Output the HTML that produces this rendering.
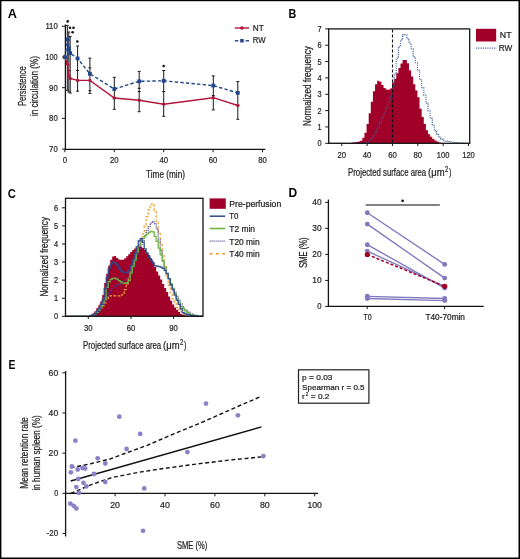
<!DOCTYPE html>
<html><head><meta charset="utf-8"><style>
html,body{margin:0;padding:0;background:#fff;}
body{width:520px;height:559px;overflow:hidden;}
svg{display:block;font-family:"Liberation Sans", sans-serif;will-change:transform;}
</style></head><body>
<svg width="520" height="559" viewBox="0 0 520 559">
<rect x="0" y="0" width="520" height="559" fill="#fff"/>
<text x="7.7" y="18.1" font-size="12.6" text-anchor="start" font-weight="bold" fill="#050505" textLength="9.2" lengthAdjust="spacingAndGlyphs">A</text>
<line x1="65.40" y1="24.50" x2="65.40" y2="149.90" stroke="#141414" stroke-width="1.3"/>
<line x1="64.80" y1="149.30" x2="265.30" y2="149.30" stroke="#141414" stroke-width="1.3"/>
<line x1="62.00" y1="149.10" x2="65.40" y2="149.10" stroke="#141414" stroke-width="1.0"/>
<text x="57.7" y="152.1" font-size="9.1" text-anchor="end" font-weight="normal" fill="#1e1e1e" stroke="#1e1e1e" stroke-width="0.22" textLength="8.6" lengthAdjust="spacingAndGlyphs">70</text>
<line x1="62.00" y1="118.40" x2="65.40" y2="118.40" stroke="#141414" stroke-width="1.0"/>
<text x="57.7" y="121.4" font-size="9.1" text-anchor="end" font-weight="normal" fill="#1e1e1e" stroke="#1e1e1e" stroke-width="0.22" textLength="8.6" lengthAdjust="spacingAndGlyphs">80</text>
<line x1="62.00" y1="87.70" x2="65.40" y2="87.70" stroke="#141414" stroke-width="1.0"/>
<text x="57.7" y="90.7" font-size="9.1" text-anchor="end" font-weight="normal" fill="#1e1e1e" stroke="#1e1e1e" stroke-width="0.22" textLength="8.6" lengthAdjust="spacingAndGlyphs">90</text>
<line x1="62.00" y1="57.00" x2="65.40" y2="57.00" stroke="#141414" stroke-width="1.0"/>
<text x="57.7" y="60.0" font-size="9.1" text-anchor="end" font-weight="normal" fill="#1e1e1e" stroke="#1e1e1e" stroke-width="0.22" textLength="12.3" lengthAdjust="spacingAndGlyphs">100</text>
<line x1="62.00" y1="26.30" x2="65.40" y2="26.30" stroke="#141414" stroke-width="1.0"/>
<text x="57.7" y="29.3" font-size="9.1" text-anchor="end" font-weight="normal" fill="#1e1e1e" stroke="#1e1e1e" stroke-width="0.22" textLength="12.3" lengthAdjust="spacingAndGlyphs">110</text>
<line x1="64.90" y1="149.30" x2="64.90" y2="152.20" stroke="#141414" stroke-width="1.0"/>
<text x="64.9" y="163.4" font-size="9.1" text-anchor="middle" font-weight="normal" fill="#1e1e1e" stroke="#1e1e1e" stroke-width="0.22" textLength="4.3" lengthAdjust="spacingAndGlyphs">0</text>
<line x1="114.30" y1="149.30" x2="114.30" y2="152.20" stroke="#141414" stroke-width="1.0"/>
<text x="114.30000000000001" y="163.4" font-size="9.1" text-anchor="middle" font-weight="normal" fill="#1e1e1e" stroke="#1e1e1e" stroke-width="0.22" textLength="8.6" lengthAdjust="spacingAndGlyphs">20</text>
<line x1="163.70" y1="149.30" x2="163.70" y2="152.20" stroke="#141414" stroke-width="1.0"/>
<text x="163.70000000000002" y="163.4" font-size="9.1" text-anchor="middle" font-weight="normal" fill="#1e1e1e" stroke="#1e1e1e" stroke-width="0.22" textLength="8.6" lengthAdjust="spacingAndGlyphs">40</text>
<line x1="213.10" y1="149.30" x2="213.10" y2="152.20" stroke="#141414" stroke-width="1.0"/>
<text x="213.10000000000002" y="163.4" font-size="9.1" text-anchor="middle" font-weight="normal" fill="#1e1e1e" stroke="#1e1e1e" stroke-width="0.22" textLength="8.6" lengthAdjust="spacingAndGlyphs">60</text>
<line x1="262.50" y1="149.30" x2="262.50" y2="152.20" stroke="#141414" stroke-width="1.0"/>
<text x="262.5" y="163.4" font-size="9.1" text-anchor="middle" font-weight="normal" fill="#1e1e1e" stroke="#1e1e1e" stroke-width="0.22" textLength="8.6" lengthAdjust="spacingAndGlyphs">80</text>
<text x="146" y="177.5" font-size="10" text-anchor="start" font-weight="normal" fill="#1e1e1e" stroke="#1e1e1e" stroke-width="0.22" textLength="39" lengthAdjust="spacingAndGlyphs">Time (min)</text>
<text x="25.8" y="86.1" font-size="10" text-anchor="middle" font-weight="normal" fill="#1e1e1e" stroke="#1e1e1e" stroke-width="0.22" textLength="39.8" lengthAdjust="spacingAndGlyphs" transform="rotate(-90 25.8 86.1)">Persistence</text>
<text x="37.9" y="86.1" font-size="10" text-anchor="middle" font-weight="normal" fill="#1e1e1e" stroke="#1e1e1e" stroke-width="0.22" textLength="60" lengthAdjust="spacingAndGlyphs" transform="rotate(-90 37.9 86.1)">in circulation (%)</text>
<line x1="67.30" y1="25.40" x2="67.30" y2="90.30" stroke="#1a1a1a" stroke-width="1.0"/>
<line x1="65.80" y1="25.40" x2="68.80" y2="25.40" stroke="#1a1a1a" stroke-width="1.0"/>
<line x1="65.80" y1="90.30" x2="68.80" y2="90.30" stroke="#1a1a1a" stroke-width="1.0"/>
<line x1="65.80" y1="63.90" x2="68.80" y2="63.90" stroke="#1a1a1a" stroke-width="1.0"/>
<line x1="68.80" y1="32.00" x2="68.80" y2="92.00" stroke="#1a1a1a" stroke-width="1.0"/>
<line x1="67.30" y1="32.00" x2="70.30" y2="32.00" stroke="#1a1a1a" stroke-width="1.0"/>
<line x1="67.30" y1="92.00" x2="70.30" y2="92.00" stroke="#1a1a1a" stroke-width="1.0"/>
<line x1="67.30" y1="70.60" x2="70.30" y2="70.60" stroke="#1a1a1a" stroke-width="1.0"/>
<line x1="70.20" y1="36.60" x2="70.20" y2="93.00" stroke="#1a1a1a" stroke-width="1.0"/>
<line x1="68.70" y1="36.60" x2="71.70" y2="36.60" stroke="#1a1a1a" stroke-width="1.0"/>
<line x1="68.70" y1="93.00" x2="71.70" y2="93.00" stroke="#1a1a1a" stroke-width="1.0"/>
<line x1="77.60" y1="46.00" x2="77.60" y2="91.20" stroke="#1a1a1a" stroke-width="1.0"/>
<line x1="76.10" y1="46.00" x2="79.10" y2="46.00" stroke="#1a1a1a" stroke-width="1.0"/>
<line x1="76.10" y1="91.20" x2="79.10" y2="91.20" stroke="#1a1a1a" stroke-width="1.0"/>
<line x1="76.10" y1="70.40" x2="79.10" y2="70.40" stroke="#1a1a1a" stroke-width="1.0"/>
<line x1="89.90" y1="58.10" x2="89.90" y2="93.40" stroke="#1a1a1a" stroke-width="1.0"/>
<line x1="88.40" y1="58.10" x2="91.40" y2="58.10" stroke="#1a1a1a" stroke-width="1.0"/>
<line x1="88.40" y1="93.40" x2="91.40" y2="93.40" stroke="#1a1a1a" stroke-width="1.0"/>
<line x1="88.40" y1="67.90" x2="91.40" y2="67.90" stroke="#1a1a1a" stroke-width="1.0"/>
<line x1="88.40" y1="90.70" x2="91.40" y2="90.70" stroke="#1a1a1a" stroke-width="1.0"/>
<line x1="114.30" y1="77.30" x2="114.30" y2="109.30" stroke="#1a1a1a" stroke-width="1.0"/>
<line x1="112.80" y1="77.30" x2="115.80" y2="77.30" stroke="#1a1a1a" stroke-width="1.0"/>
<line x1="112.80" y1="109.30" x2="115.80" y2="109.30" stroke="#1a1a1a" stroke-width="1.0"/>
<line x1="112.80" y1="98.00" x2="115.80" y2="98.00" stroke="#1a1a1a" stroke-width="1.0"/>
<line x1="139.20" y1="71.40" x2="139.20" y2="111.70" stroke="#1a1a1a" stroke-width="1.0"/>
<line x1="137.70" y1="71.40" x2="140.70" y2="71.40" stroke="#1a1a1a" stroke-width="1.0"/>
<line x1="137.70" y1="111.70" x2="140.70" y2="111.70" stroke="#1a1a1a" stroke-width="1.0"/>
<line x1="137.70" y1="88.30" x2="140.70" y2="88.30" stroke="#1a1a1a" stroke-width="1.0"/>
<line x1="137.70" y1="91.50" x2="140.70" y2="91.50" stroke="#1a1a1a" stroke-width="1.0"/>
<line x1="163.70" y1="70.50" x2="163.70" y2="116.30" stroke="#1a1a1a" stroke-width="1.0"/>
<line x1="162.20" y1="70.50" x2="165.20" y2="70.50" stroke="#1a1a1a" stroke-width="1.0"/>
<line x1="162.20" y1="116.30" x2="165.20" y2="116.30" stroke="#1a1a1a" stroke-width="1.0"/>
<line x1="162.20" y1="91.50" x2="165.20" y2="91.50" stroke="#1a1a1a" stroke-width="1.0"/>
<line x1="213.30" y1="75.90" x2="213.30" y2="109.90" stroke="#1a1a1a" stroke-width="1.0"/>
<line x1="211.80" y1="75.90" x2="214.80" y2="75.90" stroke="#1a1a1a" stroke-width="1.0"/>
<line x1="211.80" y1="109.90" x2="214.80" y2="109.90" stroke="#1a1a1a" stroke-width="1.0"/>
<line x1="211.80" y1="95.60" x2="214.80" y2="95.60" stroke="#1a1a1a" stroke-width="1.0"/>
<line x1="237.80" y1="81.60" x2="237.80" y2="119.30" stroke="#1a1a1a" stroke-width="1.0"/>
<line x1="236.30" y1="81.60" x2="239.30" y2="81.60" stroke="#1a1a1a" stroke-width="1.0"/>
<line x1="236.30" y1="119.30" x2="239.30" y2="119.30" stroke="#1a1a1a" stroke-width="1.0"/>
<line x1="236.30" y1="105.50" x2="239.30" y2="105.50" stroke="#1a1a1a" stroke-width="1.0"/>
<circle cx="67.70" cy="21.40" r="1.3" fill="#111"/>
<circle cx="70.00" cy="27.70" r="1.3" fill="#111"/>
<circle cx="73.50" cy="27.70" r="1.3" fill="#111"/>
<circle cx="72.60" cy="32.30" r="1.3" fill="#111"/>
<circle cx="77.30" cy="41.50" r="1.3" fill="#111"/>
<circle cx="163.70" cy="66.00" r="1.3" fill="#111"/>
<polyline points="64.90,57.20 67.60,64.30 68.60,75.80 70.30,78.40 77.60,80.40 89.90,80.40 114.30,98.00 139.20,100.20 163.70,104.20 213.30,97.70 237.80,105.50" fill="none" stroke="#b3163c" stroke-width="1.4" stroke-linejoin="miter"/>
<circle cx="64.90" cy="57.20" r="1.7" fill="#b3163c"/>
<circle cx="67.60" cy="64.30" r="1.7" fill="#b3163c"/>
<circle cx="68.60" cy="75.80" r="1.7" fill="#b3163c"/>
<circle cx="70.30" cy="78.40" r="1.7" fill="#b3163c"/>
<circle cx="77.60" cy="80.40" r="1.7" fill="#b3163c"/>
<circle cx="89.90" cy="80.40" r="1.7" fill="#b3163c"/>
<circle cx="114.30" cy="98.00" r="1.7" fill="#b3163c"/>
<circle cx="139.20" cy="100.20" r="1.7" fill="#b3163c"/>
<circle cx="163.70" cy="104.20" r="1.7" fill="#b3163c"/>
<circle cx="213.30" cy="97.70" r="1.7" fill="#b3163c"/>
<circle cx="237.80" cy="105.50" r="1.7" fill="#b3163c"/>
<polyline points="64.90,57.20 67.70,39.40 69.00,48.70 70.10,53.10 77.60,58.50 89.90,73.80 114.30,89.00 139.20,81.30 163.70,80.80 213.30,85.60 237.80,92.90" fill="none" stroke="#22458a" stroke-width="1.4" stroke-linejoin="miter" stroke-dasharray="3.4,2.2"/>
<rect x="63.00" y="55.30" width="3.8" height="3.8" fill="#22458a"/>
<rect x="65.80" y="37.50" width="3.8" height="3.8" fill="#22458a"/>
<rect x="67.10" y="46.80" width="3.8" height="3.8" fill="#22458a"/>
<rect x="68.20" y="51.20" width="3.8" height="3.8" fill="#22458a"/>
<rect x="75.70" y="56.60" width="3.8" height="3.8" fill="#22458a"/>
<rect x="88.00" y="71.90" width="3.8" height="3.8" fill="#22458a"/>
<rect x="112.40" y="87.10" width="3.8" height="3.8" fill="#22458a"/>
<rect x="137.30" y="79.40" width="3.8" height="3.8" fill="#22458a"/>
<rect x="161.80" y="78.90" width="3.8" height="3.8" fill="#22458a"/>
<rect x="211.40" y="83.70" width="3.8" height="3.8" fill="#22458a"/>
<rect x="235.90" y="91.00" width="3.8" height="3.8" fill="#22458a"/>
<line x1="234.80" y1="28.00" x2="249.00" y2="28.00" stroke="#b3163c" stroke-width="1.4"/>
<circle cx="241.90" cy="28.00" r="1.8" fill="#b3163c"/>
<text x="252.8" y="31.0" font-size="9" text-anchor="start" font-weight="normal" fill="#1e1e1e" stroke="#1e1e1e" stroke-width="0.22" textLength="11" lengthAdjust="spacingAndGlyphs">NT</text>
<line x1="234.80" y1="40.80" x2="238.40" y2="40.80" stroke="#22458a" stroke-width="1.4"/>
<line x1="245.60" y1="40.80" x2="249.20" y2="40.80" stroke="#22458a" stroke-width="1.4"/>
<rect x="240.2" y="39.0" width="3.5" height="3.5" fill="#22458a"/>
<text x="252.8" y="43.4" font-size="9" text-anchor="start" font-weight="normal" fill="#1e1e1e" stroke="#1e1e1e" stroke-width="0.22" textLength="12.8" lengthAdjust="spacingAndGlyphs">RW</text>
<text x="288.6" y="17.9" font-size="12.6" text-anchor="start" font-weight="bold" fill="#050505" textLength="7.8" lengthAdjust="spacingAndGlyphs">B</text>
<path d="M329,143.3 L329.00,143.30 L330.52,143.30 L330.52,143.30 L332.64,143.30 L332.64,143.30 L334.76,143.30 L334.76,143.30 L336.88,143.30 L336.88,143.30 L339.00,143.30 L339.00,143.30 L341.12,143.30 L341.12,143.30 L343.24,143.30 L343.24,143.30 L345.36,143.30 L345.36,143.30 L347.48,143.30 L347.48,143.30 L349.60,143.30 L349.60,142.96 L351.72,142.96 L351.72,142.59 L353.84,142.59 L353.84,142.28 L355.96,142.28 L355.96,141.95 L358.08,141.95 L358.08,141.58 L360.20,141.58 L360.20,140.71 L362.32,140.71 L362.32,137.85 L364.44,137.85 L364.44,132.79 L366.56,132.79 L366.56,124.11 L368.68,124.11 L368.68,113.25 L370.80,113.25 L370.80,101.82 L372.92,101.82 L372.92,91.19 L375.04,91.19 L375.04,84.21 L377.16,84.21 L377.16,80.73 L379.28,80.73 L379.28,81.68 L381.40,81.68 L381.40,84.98 L383.52,84.98 L383.52,88.07 L385.64,88.07 L385.64,89.60 L387.76,89.60 L387.76,89.72 L389.88,89.72 L389.88,88.62 L392.00,88.62 L392.00,82.51 L394.12,82.51 L394.12,78.85 L396.24,78.85 L396.24,73.17 L398.36,73.17 L398.36,67.95 L400.48,67.95 L400.48,63.54 L402.60,63.54 L402.60,59.95 L404.72,59.95 L404.72,60.07 L406.84,60.07 L406.84,63.25 L408.96,63.25 L408.96,70.19 L411.08,70.19 L411.08,76.60 L413.20,76.60 L413.20,84.21 L415.32,84.21 L415.32,90.57 L417.44,90.57 L417.44,97.31 L419.56,97.31 L419.56,108.76 L421.68,108.76 L421.68,116.91 L423.80,116.91 L423.80,124.05 L425.92,124.05 L425.92,130.14 L428.04,130.14 L428.04,134.19 L430.16,134.19 L430.16,136.76 L432.28,136.76 L432.28,138.88 L434.40,138.88 L434.40,140.49 L436.52,140.49 L436.52,141.58 L438.64,141.58 L438.64,142.47 L440.76,142.47 L440.76,143.03 L442.88,143.03 L442.88,143.30 L445.00,143.30 L445.00,143.30 L447.12,143.30 L447.12,143.30 L449.24,143.30 L449.24,143.30 L451.36,143.30 L451.36,143.30 L453.48,143.30 L453.48,143.30 L455.60,143.30 L455.60,143.30 L457.72,143.30 L457.72,143.30 L459.84,143.30 L459.84,143.30 L461.96,143.30 L461.96,143.30 L464.08,143.30 L464.08,143.30 L466.20,143.30 L466.20,143.30 L468.32,143.30 L468.32,143.30 L469.70,143.30 L469.7,143.3 Z" fill="#a10028"/>
<polyline points="329.00,143.30 330.52,143.30 330.52,143.30 332.64,143.30 332.64,143.30 334.76,143.30 334.76,143.30 336.88,143.30 336.88,143.30 339.00,143.30 339.00,143.30 341.12,143.30 341.12,143.30 343.24,143.30 343.24,143.30 345.36,143.30 345.36,143.30 347.48,143.30 347.48,143.30 349.60,143.30 349.60,143.30 351.72,143.30 351.72,143.30 353.84,143.30 353.84,143.30 355.96,143.30 355.96,143.30 358.08,143.30 358.08,143.30 360.20,143.30 360.20,143.30 362.32,143.30 362.32,143.21 364.44,143.21 364.44,142.93 366.56,142.93 366.56,142.41 368.68,142.41 368.68,140.77 370.80,140.77 370.80,138.51 372.92,138.51 372.92,135.58 375.04,135.58 375.04,131.85 377.16,131.85 377.16,128.24 379.28,128.24 379.28,122.85 381.40,122.85 381.40,117.54 383.52,117.54 383.52,113.02 385.64,113.02 385.64,107.96 387.76,107.96 387.76,101.95 389.88,101.95 389.88,96.27 392.00,96.27 392.00,87.15 394.12,87.15 394.12,74.01 396.24,74.01 396.24,58.25 398.36,58.25 398.36,46.81 400.48,46.81 400.48,39.84 402.60,39.84 402.60,34.56 404.72,34.56 404.72,34.75 406.84,34.75 406.84,38.63 408.96,38.63 408.96,43.22 411.08,43.22 411.08,48.71 413.20,48.71 413.20,56.83 415.32,56.83 415.32,62.72 417.44,62.72 417.44,70.21 419.56,70.21 419.56,79.69 421.68,79.69 421.68,87.58 423.80,87.58 423.80,95.15 425.92,95.15 425.92,103.11 428.04,103.11 428.04,110.94 430.16,110.94 430.16,118.36 432.28,118.36 432.28,125.20 434.40,125.20 434.40,130.58 436.52,130.58 436.52,134.42 438.64,134.42 438.64,137.16 440.76,137.16 440.76,139.13 442.88,139.13 442.88,140.23 445.00,140.23 445.00,141.00 447.12,141.00 447.12,141.53 449.24,141.53 449.24,141.95 451.36,141.95 451.36,142.24 453.48,142.24 453.48,142.52 455.60,142.52 455.60,142.67 457.72,142.67 457.72,142.82 459.84,142.82 459.84,142.97 461.96,142.97 461.96,143.07 464.08,143.07 464.08,143.15 466.20,143.15 466.20,143.23 468.32,143.23 468.32,143.30 469.70,143.30" fill="none" stroke="#3d5c9c" stroke-width="1.15" stroke-linejoin="miter" stroke-dasharray="1.1,1.15"/>
<line x1="392.50" y1="29.50" x2="392.50" y2="143.30" stroke="#111" stroke-width="1.1" stroke-dasharray="3,2"/>
<rect x="328.7" y="28.9" width="141.0" height="114.40" fill="none" stroke="#141414" stroke-width="1.3"/>
<line x1="325.20" y1="143.30" x2="328.70" y2="143.30" stroke="#141414" stroke-width="1.0"/>
<text x="321.6" y="146.3" font-size="9.1" text-anchor="end" font-weight="normal" fill="#1e1e1e" stroke="#1e1e1e" stroke-width="0.22" textLength="4.1" lengthAdjust="spacingAndGlyphs">0</text>
<line x1="325.20" y1="126.95" x2="328.70" y2="126.95" stroke="#141414" stroke-width="1.0"/>
<text x="321.6" y="129.95000000000002" font-size="9.1" text-anchor="end" font-weight="normal" fill="#1e1e1e" stroke="#1e1e1e" stroke-width="0.22" textLength="4.1" lengthAdjust="spacingAndGlyphs">1</text>
<line x1="325.20" y1="110.60" x2="328.70" y2="110.60" stroke="#141414" stroke-width="1.0"/>
<text x="321.6" y="113.60000000000001" font-size="9.1" text-anchor="end" font-weight="normal" fill="#1e1e1e" stroke="#1e1e1e" stroke-width="0.22" textLength="4.1" lengthAdjust="spacingAndGlyphs">2</text>
<line x1="325.20" y1="94.25" x2="328.70" y2="94.25" stroke="#141414" stroke-width="1.0"/>
<text x="321.6" y="97.25" font-size="9.1" text-anchor="end" font-weight="normal" fill="#1e1e1e" stroke="#1e1e1e" stroke-width="0.22" textLength="4.1" lengthAdjust="spacingAndGlyphs">3</text>
<line x1="325.20" y1="77.90" x2="328.70" y2="77.90" stroke="#141414" stroke-width="1.0"/>
<text x="321.6" y="80.9" font-size="9.1" text-anchor="end" font-weight="normal" fill="#1e1e1e" stroke="#1e1e1e" stroke-width="0.22" textLength="4.1" lengthAdjust="spacingAndGlyphs">4</text>
<line x1="325.20" y1="61.55" x2="328.70" y2="61.55" stroke="#141414" stroke-width="1.0"/>
<text x="321.6" y="64.55000000000001" font-size="9.1" text-anchor="end" font-weight="normal" fill="#1e1e1e" stroke="#1e1e1e" stroke-width="0.22" textLength="4.1" lengthAdjust="spacingAndGlyphs">5</text>
<line x1="325.20" y1="45.20" x2="328.70" y2="45.20" stroke="#141414" stroke-width="1.0"/>
<text x="321.6" y="48.2" font-size="9.1" text-anchor="end" font-weight="normal" fill="#1e1e1e" stroke="#1e1e1e" stroke-width="0.22" textLength="4.1" lengthAdjust="spacingAndGlyphs">6</text>
<line x1="325.20" y1="28.85" x2="328.70" y2="28.85" stroke="#141414" stroke-width="1.0"/>
<text x="321.6" y="31.849999999999994" font-size="9.1" text-anchor="end" font-weight="normal" fill="#1e1e1e" stroke="#1e1e1e" stroke-width="0.22" textLength="4.1" lengthAdjust="spacingAndGlyphs">7</text>
<line x1="341.75" y1="143.30" x2="341.75" y2="146.00" stroke="#141414" stroke-width="1.0"/>
<text x="341.75" y="157.6" font-size="9.1" text-anchor="middle" font-weight="normal" fill="#1e1e1e" stroke="#1e1e1e" stroke-width="0.22" textLength="8.6" lengthAdjust="spacingAndGlyphs">20</text>
<line x1="367.10" y1="143.30" x2="367.10" y2="146.00" stroke="#141414" stroke-width="1.0"/>
<text x="367.1" y="157.6" font-size="9.1" text-anchor="middle" font-weight="normal" fill="#1e1e1e" stroke="#1e1e1e" stroke-width="0.22" textLength="8.6" lengthAdjust="spacingAndGlyphs">40</text>
<line x1="392.45" y1="143.30" x2="392.45" y2="146.00" stroke="#141414" stroke-width="1.0"/>
<text x="392.45" y="157.6" font-size="9.1" text-anchor="middle" font-weight="normal" fill="#1e1e1e" stroke="#1e1e1e" stroke-width="0.22" textLength="8.6" lengthAdjust="spacingAndGlyphs">60</text>
<line x1="417.80" y1="143.30" x2="417.80" y2="146.00" stroke="#141414" stroke-width="1.0"/>
<text x="417.8" y="157.6" font-size="9.1" text-anchor="middle" font-weight="normal" fill="#1e1e1e" stroke="#1e1e1e" stroke-width="0.22" textLength="8.6" lengthAdjust="spacingAndGlyphs">80</text>
<line x1="443.15" y1="143.30" x2="443.15" y2="146.00" stroke="#141414" stroke-width="1.0"/>
<text x="443.15" y="157.6" font-size="9.1" text-anchor="middle" font-weight="normal" fill="#1e1e1e" stroke="#1e1e1e" stroke-width="0.22" textLength="12.6" lengthAdjust="spacingAndGlyphs">100</text>
<line x1="468.50" y1="143.30" x2="468.50" y2="146.00" stroke="#141414" stroke-width="1.0"/>
<text x="468.5" y="157.6" font-size="9.1" text-anchor="middle" font-weight="normal" fill="#1e1e1e" stroke="#1e1e1e" stroke-width="0.22" textLength="12.6" lengthAdjust="spacingAndGlyphs">120</text>
<text x="348.1" y="176.2" font-size="10" text-anchor="start" font-weight="normal" fill="#1e1e1e" stroke="#1e1e1e" stroke-width="0.22" textLength="78.1" lengthAdjust="spacingAndGlyphs">Projected surface area</text>
<text x="428.1" y="176.2" font-size="10" text-anchor="start" font-weight="normal" fill="#1e1e1e" stroke="#1e1e1e" stroke-width="0.22" textLength="16.5" lengthAdjust="spacingAndGlyphs">(&#956;m</text>
<text x="444.9" y="172.2" font-size="8.6" text-anchor="start" font-weight="normal" fill="#1e1e1e" stroke="#1e1e1e" stroke-width="0.22" textLength="3.3" lengthAdjust="spacingAndGlyphs">2</text>
<text x="449.0" y="176.2" font-size="10" text-anchor="start" font-weight="normal" fill="#1e1e1e" stroke="#1e1e1e" stroke-width="0.22" textLength="2.4" lengthAdjust="spacingAndGlyphs">)</text>
<text x="311.2" y="86.0" font-size="10" text-anchor="middle" font-weight="normal" fill="#1e1e1e" stroke="#1e1e1e" stroke-width="0.22" textLength="79.8" lengthAdjust="spacingAndGlyphs" transform="rotate(-90 311.2 86.0)">Normalized frequency</text>
<rect x="476" y="28.8" width="20.2" height="12.7" fill="#a10028"/>
<text x="499.8" y="37.7" font-size="8.5" text-anchor="start" font-weight="normal" fill="#1e1e1e" stroke="#1e1e1e" stroke-width="0.22" textLength="11.7" lengthAdjust="spacingAndGlyphs">NT</text>
<line x1="476.00" y1="48.10" x2="496.50" y2="48.10" stroke="#3d5c9c" stroke-width="1.15" stroke-dasharray="1.1,1.15"/>
<text x="498.8" y="50.5" font-size="8.5" text-anchor="start" font-weight="normal" fill="#1e1e1e" stroke="#1e1e1e" stroke-width="0.22" textLength="13.5" lengthAdjust="spacingAndGlyphs">RW</text>
<text x="7.8" y="197.7" font-size="12.6" text-anchor="start" font-weight="bold" fill="#050505" textLength="8.1" lengthAdjust="spacingAndGlyphs">C</text>
<path d="M65.4,316.3 L65.40,316.30 L66.20,316.30 L66.20,316.30 L68.20,316.30 L68.20,316.30 L70.20,316.30 L70.20,316.30 L72.20,316.30 L72.20,316.30 L74.20,316.30 L74.20,316.30 L76.20,316.30 L76.20,316.30 L78.20,316.30 L78.20,316.30 L80.20,316.30 L80.20,316.30 L82.20,316.30 L82.20,316.30 L84.20,316.30 L84.20,316.30 L86.20,316.30 L86.20,316.30 L88.20,316.30 L88.20,315.99 L90.20,315.99 L90.20,314.75 L92.20,314.75 L92.20,313.41 L94.20,313.41 L94.20,311.49 L96.20,311.49 L96.20,308.30 L98.20,308.30 L98.20,305.43 L100.20,305.43 L100.20,301.54 L102.20,301.54 L102.20,295.10 L104.20,295.10 L104.20,283.06 L106.20,283.06 L106.20,273.64 L108.20,273.64 L108.20,265.76 L110.20,265.76 L110.20,259.84 L112.20,259.84 L112.20,256.52 L114.20,256.52 L114.20,256.10 L116.20,256.10 L116.20,258.10 L118.20,258.10 L118.20,259.47 L120.20,259.47 L120.20,259.80 L122.20,259.80 L122.20,259.80 L124.20,259.80 L124.20,258.17 L126.20,258.17 L126.20,256.20 L128.20,256.20 L128.20,254.17 L130.20,254.17 L130.20,252.10 L132.20,252.10 L132.20,250.10 L134.20,250.10 L134.20,248.60 L136.20,248.60 L136.20,247.43 L138.20,247.43 L138.20,246.62 L140.20,246.62 L140.20,246.46 L142.20,246.46 L142.20,248.10 L144.20,248.10 L144.20,250.12 L146.20,250.12 L146.20,252.60 L148.20,252.60 L148.20,255.08 L150.20,255.08 L150.20,258.21 L152.20,258.21 L152.20,261.56 L154.20,261.56 L154.20,266.97 L156.20,266.97 L156.20,271.50 L158.20,271.50 L158.20,275.50 L160.20,275.50 L160.20,279.57 L162.20,279.57 L162.20,283.96 L164.20,283.96 L164.20,288.10 L166.20,288.10 L166.20,292.10 L168.20,292.10 L168.20,296.59 L170.20,296.59 L170.20,300.80 L172.20,300.80 L172.20,304.38 L174.20,304.38 L174.20,307.47 L176.20,307.47 L176.20,310.10 L178.20,310.10 L178.20,312.10 L180.20,312.10 L180.20,313.88 L182.20,313.88 L182.20,314.80 L184.20,314.80 L184.20,315.26 L186.20,315.26 L186.20,315.53 L188.20,315.53 L188.20,315.71 L190.20,315.71 L190.20,315.90 L192.20,315.90 L192.20,316.03 L194.20,316.03 L194.20,316.09 L196.20,316.09 L196.20,316.15 L198.20,316.15 L198.20,316.21 L200.20,316.21 L200.20,316.27 L202.20,316.27 L202.20,316.30 L203.00,316.30 L203,316.3 Z" fill="#a10028"/>
<polyline points="65.40,316.30 66.20,316.30 66.20,316.30 68.20,316.30 68.20,316.30 70.20,316.30 70.20,316.30 72.20,316.30 72.20,316.30 74.20,316.30 74.20,316.30 76.20,316.30 76.20,316.30 78.20,316.30 78.20,316.30 80.20,316.30 80.20,316.30 82.20,316.30 82.20,316.30 84.20,316.30 84.20,316.30 86.20,316.30 86.20,316.30 88.20,316.30 88.20,316.30 90.20,316.30 90.20,316.03 92.20,316.03 92.20,314.93 94.20,314.93 94.20,313.82 96.20,313.82 96.20,312.44 98.20,312.44 98.20,310.21 100.20,310.21 100.20,307.97 102.20,307.97 102.20,305.55 104.20,305.55 104.20,302.94 106.20,302.94 106.20,299.38 108.20,299.38 108.20,297.02 110.20,297.02 110.20,295.87 112.20,295.87 112.20,295.70 114.20,295.70 114.20,295.78 116.20,295.78 116.20,295.93 118.20,295.93 118.20,295.98 120.20,295.98 120.20,295.15 122.20,295.15 122.20,293.43 124.20,293.43 124.20,289.55 126.20,289.55 126.20,283.76 128.20,283.76 128.20,276.70 130.20,276.70 130.20,271.14 132.20,271.14 132.20,265.40 134.20,265.40 134.20,259.40 136.20,259.40 136.20,252.95 138.20,252.95 138.20,246.63 140.20,246.63 140.20,241.27 142.20,241.27 142.20,233.86 144.20,233.86 144.20,225.83 146.20,225.83 146.20,216.59 148.20,216.59 148.20,209.72 150.20,209.72 150.20,204.43 152.20,204.43 152.20,203.90 154.20,203.90 154.20,211.33 156.20,211.33 156.20,221.58 158.20,221.58 158.20,232.57 160.20,232.57 160.20,244.40 162.20,244.40 162.20,255.78 164.20,255.78 164.20,266.63 166.20,266.63 166.20,276.19 168.20,276.19 168.20,285.25 170.20,285.25 170.20,292.70 172.20,292.70 172.20,298.82 174.20,298.82 174.20,303.31 176.20,303.31 176.20,307.30 178.20,307.30 178.20,309.30 180.20,309.30 180.20,311.30 182.20,311.30 182.20,313.30 184.20,313.30 184.20,314.02 186.20,314.02 186.20,314.50 188.20,314.50 188.20,314.99 190.20,314.99 190.20,315.48 192.20,315.48 192.20,315.84 194.20,315.84 194.20,315.94 196.20,315.94 196.20,316.04 198.20,316.04 198.20,316.14 200.20,316.14 200.20,316.24 202.20,316.24 202.20,316.30 203.00,316.30" fill="none" stroke="#eea23a" stroke-width="1.25" stroke-linejoin="miter" stroke-dasharray="2.6,1.7"/>
<polyline points="65.40,316.30 66.20,316.30 66.20,316.30 68.20,316.30 68.20,316.30 70.20,316.30 70.20,316.30 72.20,316.30 72.20,316.30 74.20,316.30 74.20,316.30 76.20,316.30 76.20,316.30 78.20,316.30 78.20,316.30 80.20,316.30 80.20,316.30 82.20,316.30 82.20,316.30 84.20,316.30 84.20,316.30 86.20,316.30 86.20,316.30 88.20,316.30 88.20,316.30 90.20,316.30 90.20,316.06 92.20,316.06 92.20,315.12 94.20,315.12 94.20,314.18 96.20,314.18 96.20,313.24 98.20,313.24 98.20,310.75 100.20,310.75 100.20,307.75 102.20,307.75 102.20,304.23 104.20,304.23 104.20,300.49 106.20,300.49 106.20,296.43 108.20,296.43 108.20,292.95 110.20,292.95 110.20,290.04 112.20,290.04 112.20,287.90 114.20,287.90 114.20,286.15 116.20,286.15 116.20,285.15 118.20,285.15 118.20,284.11 120.20,284.11 120.20,283.02 122.20,283.02 122.20,281.46 124.20,281.46 124.20,279.90 126.20,279.90 126.20,277.90 128.20,277.90 128.20,275.90 130.20,275.90 130.20,272.40 132.20,272.40 132.20,267.88 134.20,267.88 134.20,261.81 136.20,261.81 136.20,255.44 138.20,255.44 138.20,248.99 140.20,248.99 140.20,244.44 142.20,244.44 142.20,240.36 144.20,240.36 144.20,235.93 146.20,235.93 146.20,230.69 148.20,230.69 148.20,226.62 150.20,226.62 150.20,223.33 152.20,223.33 152.20,221.36 154.20,221.36 154.20,223.52 156.20,223.52 156.20,229.01 158.20,229.01 158.20,239.86 160.20,239.86 160.20,250.52 162.20,250.52 162.20,261.05 164.20,261.05 164.20,267.61 166.20,267.61 166.20,273.57 168.20,273.57 168.20,279.03 170.20,279.03 170.20,284.50 172.20,284.50 172.20,288.46 174.20,288.46 174.20,292.41 176.20,292.41 176.20,296.40 178.20,296.40 178.20,300.40 180.20,300.40 180.20,303.92 182.20,303.92 182.20,306.97 184.20,306.97 184.20,309.53 186.20,309.53 186.20,310.94 188.20,310.94 188.20,312.36 190.20,312.36 190.20,313.78 192.20,313.78 192.20,314.81 194.20,314.81 194.20,315.14 196.20,315.14 196.20,315.47 198.20,315.47 198.20,315.79 200.20,315.79 200.20,316.12 202.20,316.12 202.20,316.30 203.00,316.30" fill="none" stroke="#4f3a8c" stroke-width="1.25" stroke-linejoin="miter" stroke-dasharray="1.0,1.0"/>
<polyline points="65.40,316.30 66.20,316.30 66.20,316.30 68.20,316.30 68.20,316.30 70.20,316.30 70.20,316.30 72.20,316.30 72.20,316.30 74.20,316.30 74.20,316.30 76.20,316.30 76.20,316.30 78.20,316.30 78.20,316.30 80.20,316.30 80.20,316.30 82.20,316.30 82.20,316.30 84.20,316.30 84.20,316.30 86.20,316.30 86.20,316.30 88.20,316.30 88.20,316.30 90.20,316.30 90.20,316.03 92.20,316.03 92.20,314.93 94.20,314.93 94.20,313.82 96.20,313.82 96.20,312.38 98.20,312.38 98.20,309.88 100.20,309.88 100.20,306.98 102.20,306.98 102.20,302.88 104.20,302.88 104.20,298.13 106.20,298.13 106.20,287.47 108.20,287.47 108.20,281.72 110.20,281.72 110.20,279.25 112.20,279.25 112.20,278.27 114.20,278.27 114.20,278.05 116.20,278.05 116.20,279.05 118.20,279.05 118.20,280.53 120.20,280.53 120.20,281.91 122.20,281.91 122.20,283.08 124.20,283.08 124.20,283.43 126.20,283.43 126.20,282.70 128.20,282.70 128.20,280.70 130.20,280.70 130.20,273.14 132.20,273.14 132.20,266.20 134.20,266.20 134.20,260.20 136.20,260.20 136.20,251.83 138.20,251.83 138.20,245.72 140.20,245.72 140.20,241.13 142.20,241.13 142.20,238.31 144.20,238.31 144.20,235.89 146.20,235.89 146.20,234.18 148.20,234.18 148.20,232.69 150.20,232.69 150.20,231.45 152.20,231.45 152.20,231.88 154.20,231.88 154.20,236.26 156.20,236.26 156.20,241.40 158.20,241.40 158.20,248.18 160.20,248.18 160.20,254.85 162.20,254.85 162.20,261.44 164.20,261.44 164.20,267.61 166.20,267.61 166.20,273.51 168.20,273.51 168.20,278.74 170.20,278.74 170.20,283.73 172.20,283.73 172.20,288.52 174.20,288.52 174.20,293.71 176.20,293.71 176.20,298.70 178.20,298.70 178.20,302.70 180.20,302.70 180.20,306.70 182.20,306.70 182.20,308.80 184.20,308.80 184.20,310.80 186.20,310.80 186.20,312.80 188.20,312.80 188.20,313.96 190.20,313.96 190.20,314.57 192.20,314.57 192.20,315.18 194.20,315.18 194.20,315.78 196.20,315.78 196.20,316.30 198.20,316.30 198.20,316.30 200.20,316.30 200.20,316.30 202.20,316.30 202.20,316.30 203.00,316.30" fill="none" stroke="#6cb445" stroke-width="1.25" stroke-linejoin="miter"/>
<polyline points="65.40,316.30 66.20,316.30 66.20,316.30 68.20,316.30 68.20,316.30 70.20,316.30 70.20,316.30 72.20,316.30 72.20,316.30 74.20,316.30 74.20,316.30 76.20,316.30 76.20,316.30 78.20,316.30 78.20,316.30 80.20,316.30 80.20,316.30 82.20,316.30 82.20,316.30 84.20,316.30 84.20,316.30 86.20,316.30 86.20,316.30 88.20,316.30 88.20,316.30 90.20,316.30 90.20,315.60 92.20,315.60 92.20,314.67 94.20,314.67 94.20,313.73 96.20,313.73 96.20,311.44 98.20,311.44 98.20,308.69 100.20,308.69 100.20,304.43 102.20,304.43 102.20,299.68 104.20,299.68 104.20,288.40 106.20,288.40 106.20,277.27 108.20,277.27 108.20,268.98 110.20,268.98 110.20,264.10 112.20,264.10 112.20,262.17 114.20,262.17 114.20,262.50 116.20,262.50 116.20,264.97 118.20,264.97 118.20,268.18 120.20,268.18 120.20,270.75 122.20,270.75 122.20,272.17 124.20,272.17 124.20,272.65 126.20,272.65 126.20,272.30 128.20,272.30 128.20,270.30 130.20,270.30 130.20,265.55 132.20,265.55 132.20,259.80 134.20,259.80 134.20,253.35 136.20,253.35 136.20,246.81 138.20,246.81 138.20,240.78 140.20,240.78 140.20,238.54 142.20,238.54 142.20,242.00 144.20,242.00 144.20,248.90 146.20,248.90 146.20,253.12 148.20,253.12 148.20,257.34 150.20,257.34 150.20,260.38 152.20,260.38 152.20,263.02 154.20,263.02 154.20,265.67 156.20,265.67 156.20,266.19 158.20,266.19 158.20,266.61 160.20,266.61 160.20,267.06 162.20,267.06 162.20,268.31 164.20,268.31 164.20,270.39 166.20,270.39 166.20,273.47 168.20,273.47 168.20,278.68 170.20,278.68 170.20,284.76 172.20,284.76 172.20,289.94 174.20,289.94 174.20,295.04 176.20,295.04 176.20,300.00 178.20,300.00 178.20,304.48 180.20,304.48 180.20,308.78 182.20,308.78 182.20,312.71 184.20,312.71 184.20,313.91 186.20,313.91 186.20,314.43 188.20,314.43 188.20,314.94 190.20,314.94 190.20,315.32 192.20,315.32 192.20,315.57 194.20,315.57 194.20,315.81 196.20,315.81 196.20,316.06 198.20,316.06 198.20,316.30 200.20,316.30 200.20,316.30 202.20,316.30 202.20,316.30 203.00,316.30" fill="none" stroke="#2c4a8a" stroke-width="1.25" stroke-linejoin="miter"/>
<rect x="65.5" y="198.3" width="137.5" height="118.00" fill="none" stroke="#141414" stroke-width="1.3"/>
<line x1="62.00" y1="316.30" x2="65.50" y2="316.30" stroke="#141414" stroke-width="1.0"/>
<text x="58.2" y="319.3" font-size="9.1" text-anchor="end" font-weight="normal" fill="#1e1e1e" stroke="#1e1e1e" stroke-width="0.22" textLength="4.1" lengthAdjust="spacingAndGlyphs">0</text>
<line x1="62.00" y1="298.22" x2="65.50" y2="298.22" stroke="#141414" stroke-width="1.0"/>
<text x="58.2" y="301.22" font-size="9.1" text-anchor="end" font-weight="normal" fill="#1e1e1e" stroke="#1e1e1e" stroke-width="0.22" textLength="4.1" lengthAdjust="spacingAndGlyphs">1</text>
<line x1="62.00" y1="280.14" x2="65.50" y2="280.14" stroke="#141414" stroke-width="1.0"/>
<text x="58.2" y="283.14" font-size="9.1" text-anchor="end" font-weight="normal" fill="#1e1e1e" stroke="#1e1e1e" stroke-width="0.22" textLength="4.1" lengthAdjust="spacingAndGlyphs">2</text>
<line x1="62.00" y1="262.06" x2="65.50" y2="262.06" stroke="#141414" stroke-width="1.0"/>
<text x="58.2" y="265.06" font-size="9.1" text-anchor="end" font-weight="normal" fill="#1e1e1e" stroke="#1e1e1e" stroke-width="0.22" textLength="4.1" lengthAdjust="spacingAndGlyphs">3</text>
<line x1="62.00" y1="243.98" x2="65.50" y2="243.98" stroke="#141414" stroke-width="1.0"/>
<text x="58.2" y="246.98000000000002" font-size="9.1" text-anchor="end" font-weight="normal" fill="#1e1e1e" stroke="#1e1e1e" stroke-width="0.22" textLength="4.1" lengthAdjust="spacingAndGlyphs">4</text>
<line x1="62.00" y1="225.90" x2="65.50" y2="225.90" stroke="#141414" stroke-width="1.0"/>
<text x="58.2" y="228.90000000000003" font-size="9.1" text-anchor="end" font-weight="normal" fill="#1e1e1e" stroke="#1e1e1e" stroke-width="0.22" textLength="4.1" lengthAdjust="spacingAndGlyphs">5</text>
<line x1="62.00" y1="207.82" x2="65.50" y2="207.82" stroke="#141414" stroke-width="1.0"/>
<text x="58.2" y="210.82000000000002" font-size="9.1" text-anchor="end" font-weight="normal" fill="#1e1e1e" stroke="#1e1e1e" stroke-width="0.22" textLength="4.1" lengthAdjust="spacingAndGlyphs">6</text>
<line x1="88.30" y1="316.30" x2="88.30" y2="319.00" stroke="#141414" stroke-width="1.0"/>
<text x="88.3" y="330.5" font-size="9.1" text-anchor="middle" font-weight="normal" fill="#1e1e1e" stroke="#1e1e1e" stroke-width="0.22" textLength="8.6" lengthAdjust="spacingAndGlyphs">30</text>
<line x1="130.95" y1="316.30" x2="130.95" y2="319.00" stroke="#141414" stroke-width="1.0"/>
<text x="130.951" y="330.5" font-size="9.1" text-anchor="middle" font-weight="normal" fill="#1e1e1e" stroke="#1e1e1e" stroke-width="0.22" textLength="8.6" lengthAdjust="spacingAndGlyphs">60</text>
<line x1="173.60" y1="316.30" x2="173.60" y2="319.00" stroke="#141414" stroke-width="1.0"/>
<text x="173.60199999999998" y="330.5" font-size="9.1" text-anchor="middle" font-weight="normal" fill="#1e1e1e" stroke="#1e1e1e" stroke-width="0.22" textLength="8.6" lengthAdjust="spacingAndGlyphs">90</text>
<text x="83.1" y="349.2" font-size="10" text-anchor="start" font-weight="normal" fill="#1e1e1e" stroke="#1e1e1e" stroke-width="0.22" textLength="78.1" lengthAdjust="spacingAndGlyphs">Projected surface area</text>
<text x="163.1" y="349.2" font-size="10" text-anchor="start" font-weight="normal" fill="#1e1e1e" stroke="#1e1e1e" stroke-width="0.22" textLength="16.5" lengthAdjust="spacingAndGlyphs">(&#956;m</text>
<text x="179.9" y="345.2" font-size="8.6" text-anchor="start" font-weight="normal" fill="#1e1e1e" stroke="#1e1e1e" stroke-width="0.22" textLength="3.3" lengthAdjust="spacingAndGlyphs">2</text>
<text x="184.0" y="349.2" font-size="10" text-anchor="start" font-weight="normal" fill="#1e1e1e" stroke="#1e1e1e" stroke-width="0.22" textLength="2.4" lengthAdjust="spacingAndGlyphs">)</text>
<text x="47.8" y="256.8" font-size="10" text-anchor="middle" font-weight="normal" fill="#1e1e1e" stroke="#1e1e1e" stroke-width="0.22" textLength="79.6" lengthAdjust="spacingAndGlyphs" transform="rotate(-90 47.8 256.8)">Normalized frequency</text>
<rect x="209.6" y="198.4" width="16.2" height="10.4" fill="#a10028"/>
<text x="229.3" y="206.5" font-size="8.5" text-anchor="start" font-weight="normal" fill="#1e1e1e" stroke="#1e1e1e" stroke-width="0.22" textLength="51.9" lengthAdjust="spacingAndGlyphs">Pre-perfusion</text>
<line x1="209.60" y1="216.20" x2="225.20" y2="216.20" stroke="#2c4a8a" stroke-width="1.5"/>
<text x="229.3" y="219.3" font-size="8.5" text-anchor="start" font-weight="normal" fill="#1e1e1e" stroke="#1e1e1e" stroke-width="0.22" textLength="9.2" lengthAdjust="spacingAndGlyphs">T0</text>
<line x1="209.60" y1="228.50" x2="225.20" y2="228.50" stroke="#6cb445" stroke-width="1.6"/>
<text x="229.3" y="231.9" font-size="8.5" text-anchor="start" font-weight="normal" fill="#1e1e1e" stroke="#1e1e1e" stroke-width="0.22" textLength="25.7" lengthAdjust="spacingAndGlyphs">T2 min</text>
<line x1="209.60" y1="241.20" x2="225.20" y2="241.20" stroke="#4f3a8c" stroke-width="1.25" stroke-dasharray="1.0,1.0"/>
<text x="229.3" y="244.5" font-size="8.5" text-anchor="start" font-weight="normal" fill="#1e1e1e" stroke="#1e1e1e" stroke-width="0.22" textLength="30.3" lengthAdjust="spacingAndGlyphs">T20 min</text>
<line x1="209.60" y1="253.80" x2="225.20" y2="253.80" stroke="#eb9a2e" stroke-width="1.5" stroke-dasharray="3,3.3"/>
<text x="229.3" y="256.8" font-size="8.5" text-anchor="start" font-weight="normal" fill="#1e1e1e" stroke="#1e1e1e" stroke-width="0.22" textLength="30.3" lengthAdjust="spacingAndGlyphs">T40 min</text>
<text x="288.6" y="197.3" font-size="12.6" text-anchor="start" font-weight="bold" fill="#050505" textLength="8.7" lengthAdjust="spacingAndGlyphs">D</text>
<line x1="328.40" y1="199.50" x2="328.40" y2="307.00" stroke="#141414" stroke-width="1.3"/>
<line x1="327.80" y1="306.40" x2="483.70" y2="306.40" stroke="#141414" stroke-width="1.3"/>
<line x1="325.20" y1="306.40" x2="328.40" y2="306.40" stroke="#141414" stroke-width="1.0"/>
<text x="321.6" y="309.4" font-size="9.1" text-anchor="end" font-weight="normal" fill="#1e1e1e" stroke="#1e1e1e" stroke-width="0.22" textLength="4.3" lengthAdjust="spacingAndGlyphs">0</text>
<line x1="325.20" y1="280.40" x2="328.40" y2="280.40" stroke="#141414" stroke-width="1.0"/>
<text x="321.6" y="283.4" font-size="9.1" text-anchor="end" font-weight="normal" fill="#1e1e1e" stroke="#1e1e1e" stroke-width="0.22" textLength="9.3" lengthAdjust="spacingAndGlyphs">10</text>
<line x1="325.20" y1="254.40" x2="328.40" y2="254.40" stroke="#141414" stroke-width="1.0"/>
<text x="321.6" y="257.4" font-size="9.1" text-anchor="end" font-weight="normal" fill="#1e1e1e" stroke="#1e1e1e" stroke-width="0.22" textLength="9.3" lengthAdjust="spacingAndGlyphs">20</text>
<line x1="325.20" y1="228.40" x2="328.40" y2="228.40" stroke="#141414" stroke-width="1.0"/>
<text x="321.6" y="231.39999999999998" font-size="9.1" text-anchor="end" font-weight="normal" fill="#1e1e1e" stroke="#1e1e1e" stroke-width="0.22" textLength="9.3" lengthAdjust="spacingAndGlyphs">30</text>
<line x1="325.20" y1="202.40" x2="328.40" y2="202.40" stroke="#141414" stroke-width="1.0"/>
<text x="321.6" y="205.39999999999998" font-size="9.1" text-anchor="end" font-weight="normal" fill="#1e1e1e" stroke="#1e1e1e" stroke-width="0.22" textLength="9.3" lengthAdjust="spacingAndGlyphs">40</text>
<line x1="367.20" y1="306.40" x2="367.20" y2="309.20" stroke="#141414" stroke-width="1.0"/>
<line x1="444.60" y1="306.40" x2="444.60" y2="309.20" stroke="#141414" stroke-width="1.0"/>
<text x="363.4" y="320.4" font-size="8.5" text-anchor="start" font-weight="normal" fill="#1e1e1e" stroke="#1e1e1e" stroke-width="0.22" textLength="8.2" lengthAdjust="spacingAndGlyphs">T0</text>
<text x="425.4" y="320.4" font-size="8.5" text-anchor="start" font-weight="normal" fill="#1e1e1e" stroke="#1e1e1e" stroke-width="0.22" textLength="39.6" lengthAdjust="spacingAndGlyphs">T40-70min</text>
<text x="306.9" y="252.6" font-size="10.5" text-anchor="middle" font-weight="normal" fill="#1e1e1e" stroke="#1e1e1e" stroke-width="0.22" textLength="30.4" lengthAdjust="spacingAndGlyphs" transform="rotate(-90 306.9 252.6)">SME (%)</text>
<line x1="365.60" y1="205.00" x2="439.80" y2="205.00" stroke="#5a5a5a" stroke-width="1.6"/>
<circle cx="402.60" cy="200.85" r="1.35" fill="#111"/>
<line x1="367.30" y1="212.80" x2="444.70" y2="264.40" stroke="#8079bf" stroke-width="1.35"/>
<line x1="367.30" y1="224.10" x2="444.70" y2="278.10" stroke="#8079bf" stroke-width="1.35"/>
<line x1="367.30" y1="244.70" x2="444.70" y2="288.10" stroke="#8079bf" stroke-width="1.35"/>
<line x1="367.30" y1="251.10" x2="444.70" y2="286.60" stroke="#8079bf" stroke-width="1.35"/>
<line x1="367.30" y1="296.30" x2="444.70" y2="298.50" stroke="#8079bf" stroke-width="1.35"/>
<line x1="367.30" y1="298.50" x2="444.70" y2="300.60" stroke="#8079bf" stroke-width="1.35"/>
<circle cx="367.30" cy="212.80" r="2.45" fill="#8079bf"/>
<circle cx="444.70" cy="264.40" r="2.45" fill="#8079bf"/>
<circle cx="367.30" cy="224.10" r="2.45" fill="#8079bf"/>
<circle cx="444.70" cy="278.10" r="2.45" fill="#8079bf"/>
<circle cx="367.30" cy="244.70" r="2.45" fill="#8079bf"/>
<circle cx="444.70" cy="288.10" r="2.45" fill="#8079bf"/>
<circle cx="367.30" cy="251.10" r="2.45" fill="#8079bf"/>
<circle cx="444.70" cy="286.60" r="2.45" fill="#8079bf"/>
<circle cx="367.30" cy="296.30" r="2.45" fill="#8079bf"/>
<circle cx="444.70" cy="298.50" r="2.45" fill="#8079bf"/>
<circle cx="367.30" cy="298.50" r="2.45" fill="#8079bf"/>
<circle cx="444.70" cy="300.60" r="2.45" fill="#8079bf"/>
<line x1="367.30" y1="254.50" x2="444.70" y2="286.25" stroke="#a10028" stroke-width="1.5" stroke-dasharray="3,2"/>
<circle cx="367.30" cy="254.50" r="2.6" fill="#a10028"/>
<circle cx="444.70" cy="286.25" r="2.6" fill="#a10028"/>
<text x="8.4" y="368.9" font-size="12.6" text-anchor="start" font-weight="bold" fill="#050505" textLength="6.9" lengthAdjust="spacingAndGlyphs">E</text>
<line x1="65.60" y1="371.00" x2="65.60" y2="536.50" stroke="#141414" stroke-width="1.3"/>
<line x1="65.00" y1="493.30" x2="318.00" y2="493.30" stroke="#141414" stroke-width="1.3"/>
<line x1="62.50" y1="533.45" x2="65.60" y2="533.45" stroke="#141414" stroke-width="1.0"/>
<text x="58.2" y="536.45" font-size="9.1" text-anchor="end" font-weight="normal" fill="#1e1e1e" stroke="#1e1e1e" stroke-width="0.22" textLength="11.6" lengthAdjust="spacingAndGlyphs">-20</text>
<line x1="62.50" y1="493.30" x2="65.60" y2="493.30" stroke="#141414" stroke-width="1.0"/>
<text x="58.2" y="496.3" font-size="9.1" text-anchor="end" font-weight="normal" fill="#1e1e1e" stroke="#1e1e1e" stroke-width="0.22" textLength="4.0" lengthAdjust="spacingAndGlyphs">0</text>
<line x1="62.50" y1="453.15" x2="65.60" y2="453.15" stroke="#141414" stroke-width="1.0"/>
<text x="58.2" y="456.15000000000003" font-size="9.1" text-anchor="end" font-weight="normal" fill="#1e1e1e" stroke="#1e1e1e" stroke-width="0.22" textLength="9.6" lengthAdjust="spacingAndGlyphs">20</text>
<line x1="62.50" y1="413.00" x2="65.60" y2="413.00" stroke="#141414" stroke-width="1.0"/>
<text x="58.2" y="416.0" font-size="9.1" text-anchor="end" font-weight="normal" fill="#1e1e1e" stroke="#1e1e1e" stroke-width="0.22" textLength="9.6" lengthAdjust="spacingAndGlyphs">40</text>
<line x1="62.50" y1="372.85" x2="65.60" y2="372.85" stroke="#141414" stroke-width="1.0"/>
<text x="58.2" y="375.85" font-size="9.1" text-anchor="end" font-weight="normal" fill="#1e1e1e" stroke="#1e1e1e" stroke-width="0.22" textLength="9.6" lengthAdjust="spacingAndGlyphs">60</text>
<line x1="115.10" y1="493.30" x2="115.10" y2="496.30" stroke="#141414" stroke-width="1.0"/>
<text x="115.10000000000001" y="507.5" font-size="9.1" text-anchor="middle" font-weight="normal" fill="#1e1e1e" stroke="#1e1e1e" stroke-width="0.22" textLength="9.8" lengthAdjust="spacingAndGlyphs">20</text>
<line x1="165.00" y1="493.30" x2="165.00" y2="496.30" stroke="#141414" stroke-width="1.0"/>
<text x="165.0" y="507.5" font-size="9.1" text-anchor="middle" font-weight="normal" fill="#1e1e1e" stroke="#1e1e1e" stroke-width="0.22" textLength="9.8" lengthAdjust="spacingAndGlyphs">40</text>
<line x1="214.90" y1="493.30" x2="214.90" y2="496.30" stroke="#141414" stroke-width="1.0"/>
<text x="214.90000000000003" y="507.5" font-size="9.1" text-anchor="middle" font-weight="normal" fill="#1e1e1e" stroke="#1e1e1e" stroke-width="0.22" textLength="9.8" lengthAdjust="spacingAndGlyphs">60</text>
<line x1="264.80" y1="493.30" x2="264.80" y2="496.30" stroke="#141414" stroke-width="1.0"/>
<text x="264.8" y="507.5" font-size="9.1" text-anchor="middle" font-weight="normal" fill="#1e1e1e" stroke="#1e1e1e" stroke-width="0.22" textLength="9.8" lengthAdjust="spacingAndGlyphs">80</text>
<line x1="314.70" y1="493.30" x2="314.70" y2="496.30" stroke="#141414" stroke-width="1.0"/>
<text x="314.7" y="507.5" font-size="9.1" text-anchor="middle" font-weight="normal" fill="#1e1e1e" stroke="#1e1e1e" stroke-width="0.22" textLength="14.5" lengthAdjust="spacingAndGlyphs">100</text>
<text x="176.9" y="548.8" font-size="10.5" text-anchor="start" font-weight="normal" fill="#1e1e1e" stroke="#1e1e1e" stroke-width="0.22" textLength="30.3" lengthAdjust="spacingAndGlyphs">SME (%)</text>
<text x="27.8" y="453.0" font-size="10" text-anchor="middle" font-weight="normal" fill="#1e1e1e" stroke="#1e1e1e" stroke-width="0.22" textLength="71.5" lengthAdjust="spacingAndGlyphs" transform="rotate(-90 27.8 453.0)">Mean retention rate</text>
<text x="39.9" y="452.9" font-size="10" text-anchor="middle" font-weight="normal" fill="#1e1e1e" stroke="#1e1e1e" stroke-width="0.22" textLength="75.3" lengthAdjust="spacingAndGlyphs" transform="rotate(-90 39.9 452.9)">in human spleen (%)</text>
<line x1="70.70" y1="481.00" x2="261.50" y2="426.90" stroke="#111" stroke-width="1.4"/>
<polyline points="70.70,467.90 90.80,463.70 110.00,459.00 127.30,452.60 147.20,445.30 161.90,439.00 179.20,431.60 200.00,423.20 222.00,413.50 241.00,405.00 261.00,396.50" fill="none" stroke="#111" stroke-width="1.4" stroke-linejoin="miter" stroke-dasharray="4,2.6"/>
<polyline points="70.70,493.50 90.80,484.80 112.00,477.50 138.90,472.30 160.00,469.00 200.00,463.60 230.00,460.00 261.50,456.90" fill="none" stroke="#111" stroke-width="1.4" stroke-linejoin="miter" stroke-dasharray="4,2.6"/>
<circle cx="75.40" cy="440.70" r="2.4" fill="#8a82c5"/>
<circle cx="119.30" cy="416.70" r="2.4" fill="#8a82c5"/>
<circle cx="126.60" cy="449.00" r="2.4" fill="#8a82c5"/>
<circle cx="97.70" cy="458.30" r="2.4" fill="#8a82c5"/>
<circle cx="105.30" cy="463.50" r="2.4" fill="#8a82c5"/>
<circle cx="71.90" cy="466.50" r="2.4" fill="#8a82c5"/>
<circle cx="77.70" cy="469.50" r="2.4" fill="#8a82c5"/>
<circle cx="70.90" cy="472.30" r="2.4" fill="#8a82c5"/>
<circle cx="85.20" cy="468.50" r="2.4" fill="#8a82c5"/>
<circle cx="82.50" cy="468.00" r="2.4" fill="#8a82c5"/>
<circle cx="94.00" cy="474.00" r="2.4" fill="#8a82c5"/>
<circle cx="78.20" cy="479.00" r="2.4" fill="#8a82c5"/>
<circle cx="83.50" cy="482.80" r="2.4" fill="#8a82c5"/>
<circle cx="105.30" cy="482.00" r="2.4" fill="#8a82c5"/>
<circle cx="76.30" cy="487.10" r="2.4" fill="#8a82c5"/>
<circle cx="86.40" cy="486.40" r="2.4" fill="#8a82c5"/>
<circle cx="70.30" cy="503.70" r="2.4" fill="#8a82c5"/>
<circle cx="73.70" cy="505.80" r="2.4" fill="#8a82c5"/>
<circle cx="76.30" cy="508.40" r="2.4" fill="#8a82c5"/>
<circle cx="78.90" cy="492.80" r="2.4" fill="#8a82c5"/>
<circle cx="206.00" cy="403.60" r="2.4" fill="#8a82c5"/>
<circle cx="237.90" cy="415.30" r="2.4" fill="#8a82c5"/>
<circle cx="140.20" cy="433.90" r="2.4" fill="#8a82c5"/>
<circle cx="187.40" cy="452.10" r="2.4" fill="#8a82c5"/>
<circle cx="263.40" cy="456.10" r="2.4" fill="#8a82c5"/>
<circle cx="144.20" cy="488.40" r="2.4" fill="#8a82c5"/>
<circle cx="143.00" cy="530.80" r="2.4" fill="#8a82c5"/>
<rect x="298.5" y="369.8" width="70.4" height="33.4" fill="#fff" stroke="#222" stroke-width="1.2"/>
<text x="302.1" y="379.9" font-size="8.0" text-anchor="start" font-weight="normal" fill="#1e1e1e" stroke="#1e1e1e" stroke-width="0.22" textLength="30.4" lengthAdjust="spacingAndGlyphs">p = 0.03</text>
<text x="302.1" y="389.7" font-size="8.0" text-anchor="start" font-weight="normal" fill="#1e1e1e" stroke="#1e1e1e" stroke-width="0.22" textLength="62.5" lengthAdjust="spacingAndGlyphs">Spearman r = 0.5</text>
<text x="302.1" y="399.3" font-size="8.0" text-anchor="start" font-weight="normal" fill="#1e1e1e" stroke="#1e1e1e" stroke-width="0.22" textLength="2.8" lengthAdjust="spacingAndGlyphs">r</text>
<text x="305.8" y="395.6" font-size="5.6" text-anchor="start" font-weight="normal" fill="#1e1e1e" stroke="#1e1e1e" stroke-width="0.22" textLength="2.5" lengthAdjust="spacingAndGlyphs">2</text>
<text x="310.8" y="399.3" font-size="8.0" text-anchor="start" font-weight="normal" fill="#1e1e1e" stroke="#1e1e1e" stroke-width="0.22" textLength="18.5" lengthAdjust="spacingAndGlyphs">= 0.2</text>
<rect x="0" y="0" width="520" height="1.2" fill="#000"/>
<rect x="0" y="0" width="1.4" height="559" fill="#000"/>
<rect x="518.5" y="0" width="1.5" height="559" fill="#000"/>
<rect x="0" y="557.5" width="520" height="1.5" fill="#000"/>
</svg>
</body></html>
